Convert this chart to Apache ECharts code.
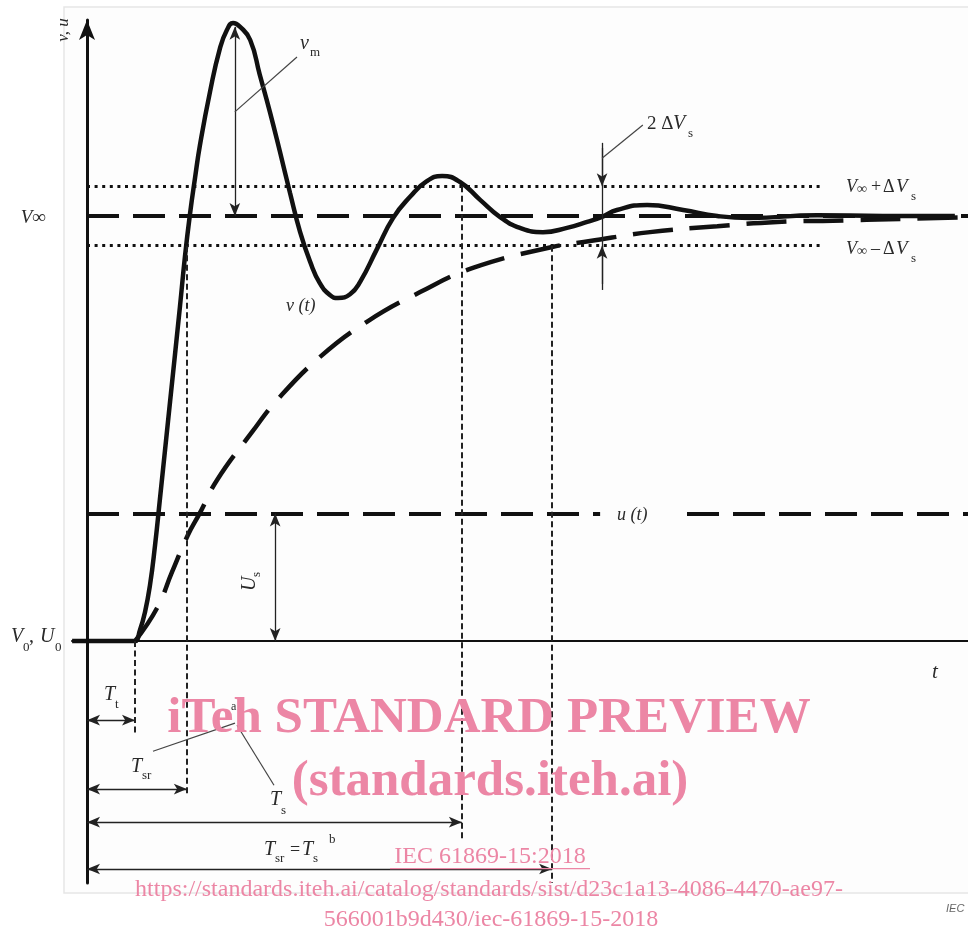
<!DOCTYPE html>
<html><head><meta charset="utf-8">
<script src="https://cdn.jsdelivr.net/npm/echarts@6/dist/echarts.min.js"></script>
<style>html,body{margin:0;padding:0;background:#fff}#c{width:968px;height:936px}</style>
</head><body><div id="c"></div>
<script>
const tV = [-0.31, 0.9, 1.0, 1.104, 1.208, 1.3125, 1.417, 1.521, 1.729, 1.9375, 2.042, 2.146, 2.25, 2.354, 2.5625, 2.771, 2.917, 3.042, 3.19, 3.40, 3.60, 3.81, 4.02, 4.23, 4.44, 4.65, 4.85, 5.06, 5.23, 5.48, 5.69, 6.04, 6.375, 6.73, 7.08, 7.40, 7.77, 8.19, 8.60, 9.02, 9.50, 10.00, 10.42, 10.73, 11.04, 11.67, 12.42, 13.13, 13.81, 15.21, 16.58, 18.08];
const vV = [0, 0, 0, 0.026, 0.068, 0.132, 0.225, 0.336, 0.562, 0.788, 0.906, 1.005, 1.089, 1.167, 1.292, 1.395, 1.438, 1.454, 1.445, 1.414, 1.332, 1.245, 1.151, 1.054, 0.962, 0.892, 0.842, 0.814, 0.807, 0.816, 0.845, 0.922, 0.995, 1.045, 1.082, 1.094, 1.080, 1.038, 0.998, 0.972, 0.962, 0.972, 0.986, 0.998, 1.014, 1.026, 1.014, 1.0, 0.995, 1.002, 1.0, 1.0];
// aperiodic (dashed) response
const tA = [1.00, 1.46, 1.77, 2.10, 2.35, 2.71, 3.44, 3.96, 4.85, 5.83, 6.94, 8.04, 9.69, 10.48, 11.73, 13.13, 14.38, 15.54, 16.94, 18.35];
const vA = [0, 0.078, 0.162, 0.249, 0.301, 0.379, 0.492, 0.567, 0.668, 0.751, 0.821, 0.878, 0.927, 0.941, 0.962, 0.976, 0.986, 0.989, 0.993, 0.997];
// characteristic levels and times
const V0 = 0, Vinf = 1.0, dVs = 0.07, Ustep = 0.30, vMax = 1.445;
const Tt = 1.0, Tsr = 2.08, Ts = 7.81, TsrEq = 9.69, tPeak = 3.08, tUs = 3.92, t2dV = 10.73;
const tMin = -0.3125, tMax = 18.354, yMin = -0.569, yMax = 1.461;

const ink = '#111';
const serif = '"Liberation Serif", "DejaVu Serif", serif';
function seg(a, b, style, s1, s2, size) {
  return [{coord: a, symbol: s1 || 'none', symbolSize: size || [8, 13], lineStyle: style},
          {coord: b, symbol: s2 || 'none', symbolSize: size || [8, 13]}];
}
const thin = {color: '#222', width: 1.3, type: 'solid'};
const lead = {color: '#444', width: 1.2, type: 'solid'};
const vdot = {color: '#222', width: 2, type: [6, 3.5]};
const hdot = {color: '#111', width: 3, type: [3, 4.6]};
const longDash = {color: ink, width: 3.8, type: [32, 14]};

const markers = [
  seg([0, Vinf], [tMax, Vinf], longDash),
  seg([0, Vinf + dVs], [15.32, Vinf + dVs], hdot),
  seg([0, Vinf - dVs], [15.32, Vinf - dVs], hdot),
  seg([0, Ustep], [10.69, Ustep], longDash),
  seg([12.5, Ustep], [tMax, Ustep], longDash),
  // vertical dotted time markers
  seg([Tt, 0], [Tt, -0.221], vdot),
  seg([Tsr, Vinf - dVs], [Tsr, -0.362], vdot),
  seg([Ts, Vinf + dVs], [Ts, -0.468], vdot),
  seg([TsrEq, Vinf - dVs], [TsrEq, yMin], vdot),
  // arrows
  seg([tPeak, vMax], [tPeak, Vinf], thin, 'arrow', 'arrow'),
  seg([tUs, V0], [tUs, Ustep], thin, 'arrow', 'arrow'),
  seg([t2dV, 1.172], [t2dV, 0.826], thin),
  seg([t2dV, 1.16], [t2dV, Vinf + dVs], thin, 'none', 'arrow'),
  seg([t2dV, 0.84], [t2dV, Vinf - dVs], thin, 'none', 'arrow'),
  seg([0, -0.186], [Tt, -0.186], thin, 'arrow', 'arrow'),
  seg([0, -0.348], [Tsr, -0.348], thin, 'arrow', 'arrow'),
  seg([0, -0.426], [Ts, -0.426], thin, 'arrow', 'arrow'),
  seg([0, -0.536], [TsrEq, -0.536], thin, 'arrow', 'arrow'),
  // leader lines
  seg([tPeak, 1.245], [4.375, 1.374], lead),
  seg([t2dV, 1.136], [11.58, 1.214], lead),
  seg([1.375, -0.259], [3.083, -0.193], lead),
  seg([3.125, -0.198], [3.896, -0.339], lead)
];

function txt(x, y, text, o) {
  o = o || {};
  return {type: 'text', x: x, y: y, z: 50, rotation: o.rot || 0,
    style: {text: text, fontFamily: o.fam || serif, fontSize: o.size || 20,
      fontStyle: o.style || 'italic', fontWeight: o.weight || 'normal',
      fill: o.fill || '#2a2a2a', textAlign: o.align || 'left', textVerticalAlign: 'middle'}};
}
const sub = {size: 13, style: 'normal'};
const pink = '#ec86a5';
const wm = {fill: pink, style: 'normal', align: 'center'};

const graphics = [
  {type: 'rect', z: -100, shape: {x: 64, y: 7, width: 920, height: 886}, style: {fill: '#fdfdfd', stroke: '#e6e6e6', lineWidth: 1.5}},
  txt(64, 30, 'v, u', {size: 17, align: 'center', rot: Math.PI / 2}),
  txt(46, 218, 'V\u221E', {size: 19, align: 'right'}),
  txt(11, 637, 'V', {size: 20}), txt(23, 648, '0', sub), txt(29, 637, ',', {size: 20, style: 'normal'}),
  txt(40, 637, 'U', {size: 20}), txt(55, 648, '0', sub),
  txt(932, 672, 't', {size: 21}),
  txt(300, 44, 'v', {size: 20}), txt(310, 53, 'm', sub),
  txt(286, 306, 'v (t)', {size: 18}),
  txt(617, 515, 'u (t)', {size: 18}),
  txt(647, 124, '2 \u0394', {size: 19, style: 'normal'}), txt(673, 124, 'V', {size: 20}), txt(688, 134, 's', sub),
  txt(846, 187, 'V', {size: 18}), txt(857, 189, '\u221E', {size: 14}), txt(871, 187, '+', {size: 18, style: 'normal'}), txt(883, 187, '\u0394', {size: 18, style: 'normal'}), txt(896, 187, 'V', {size: 19}), txt(911, 197, 's', sub),
  txt(846, 249, 'V', {size: 18}), txt(857, 251, '\u221E', {size: 14}), txt(871, 249, '\u2013', {size: 18, style: 'normal'}), txt(883, 249, '\u0394', {size: 18, style: 'normal'}), txt(896, 249, 'V', {size: 19}), txt(911, 259, 's', sub),
  {type: 'group', x: 250, y: 581, rotation: Math.PI / 2, z: 50, children: [
    txt(-10, 0, 'U', {size: 20}), txt(4, 7, 's', sub)]},
  txt(104, 695, 'T', {size: 20}), txt(115, 705, 't', sub),
  txt(131, 767, 'T', {size: 20}), txt(142, 776, 'sr', sub),
  txt(231, 707, 'a', {size: 12, style: 'normal'}),
  txt(270, 800, 'T', {size: 20}), txt(281, 811, 's', sub),
  txt(264, 850, 'T', {size: 20}), txt(275, 859, 'sr', sub),
  txt(290, 850, '=', {size: 18, style: 'normal'}),
  txt(302, 850, 'T', {size: 20}), txt(313, 859, 's', sub),
  txt(329, 840, 'b', {size: 13, style: 'normal'}),
  txt(946, 909, 'IEC', {size: 11, fam: 'Arial, "Liberation Sans", sans-serif', fill: '#666'}),
  // watermark
  txt(489, 719, 'iTeh STANDARD PREVIEW', Object.assign({size: 51, weight: 'bold'}, wm)),
  txt(490, 782, '(standards.iteh.ai)', Object.assign({size: 51, weight: 'bold'}, wm)),
  txt(490, 857, 'IEC 61869-15:2018', Object.assign({size: 24}, wm)),
  {type: 'rect', z: 50, shape: {x: 390, y: 868, width: 200, height: 1.3}, style: {fill: pink}},
  txt(489, 890, 'https://standards.iteh.ai/catalog/standards/sist/d23c1a13-4086-4470-ae97-', Object.assign({size: 24}, wm)),
  txt(491, 920, '566001b9d430/iec-61869-15-2018', Object.assign({size: 24}, wm))
];

const chart = echarts.init(document.getElementById('c'), null, {renderer: 'canvas'});
chart.setOption({
  backgroundColor: '#ffffff',
  animation: false,
  grid: {left: 72, right: 0, top: 20, bottom: 936 - 883},
  xAxis: {type: 'value', min: tMin, max: tMax, axisLine: {onZero: true, lineStyle: {color: ink, width: 2}},
    axisTick: {show: false}, axisLabel: {show: false}, splitLine: {show: false}},
  yAxis: {type: 'value', min: yMin, max: yMax, axisLine: {onZero: true, symbol: ['none', 'arrow'], symbolSize: [12, 20], lineStyle: {color: ink, width: 3}},
    axisTick: {show: false}, axisLabel: {show: false}, splitLine: {show: false}},
  series: [
    {name: 'markers', type: 'line', data: [], clip: false, z: 2,
      markLine: {silent: true, animation: false, label: {show: false}, emphasis: {disabled: true}, data: markers}},
    {name: 'aperiodic', type: 'line', smooth: 0.45, showSymbol: false, z: 3,
      data: tA.map((t, i) => [t, vA[i]]), lineStyle: {color: ink, width: 4.5, type: [40, 17]}},
    {name: 'v(t)', type: 'line', smooth: 0.5, showSymbol: false, z: 4,
      data: tV.map((t, i) => [t, vV[i]]), lineStyle: {color: ink, width: 4.5}}
  ],
  graphic: graphics
});
</script></body></html>
